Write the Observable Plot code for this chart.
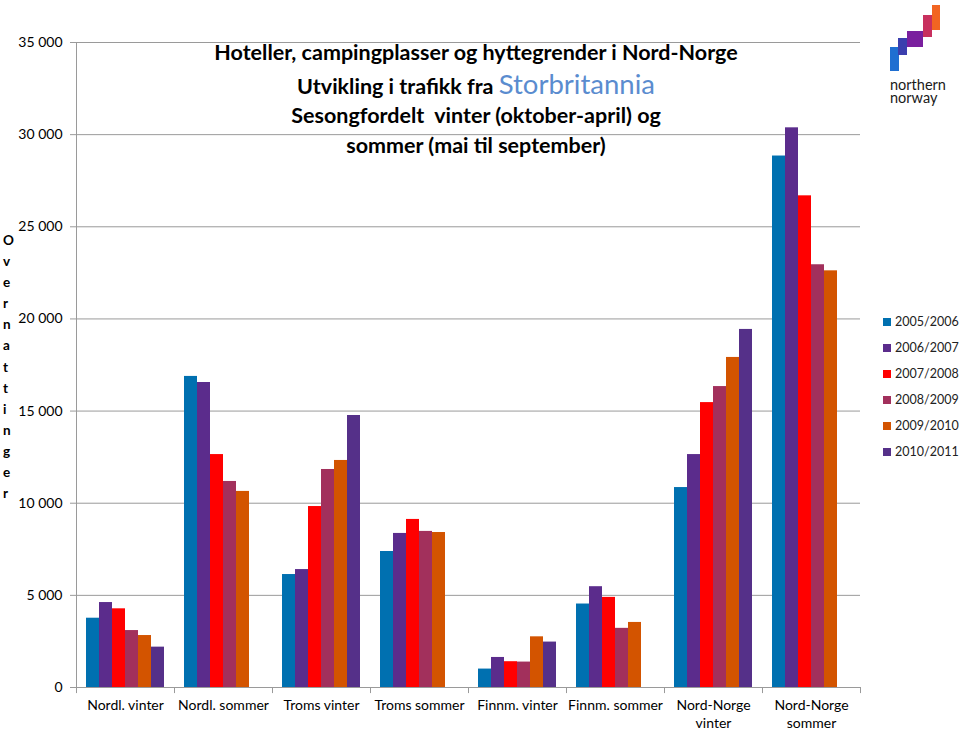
<!DOCTYPE html>
<html>
<head>
<meta charset="utf-8">
<script src="https://cdn.jsdelivr.net/npm/d3@7"></script>
<script src="https://cdn.jsdelivr.net/npm/@observablehq/plot@0.6"></script>
<style>
  body { margin: 0; background: #fff; font-family: Lato, "Open Sans", sans-serif; }
  #wrap { position: relative; width: 960px; height: 730px; overflow: hidden; }
  #chart { position: absolute; left: 0; top: 0; }
  .tl { position: absolute; left: 0; width: 952px; text-align: center; color: #000; font-weight: bold; font-size: 21.5px; white-space: nowrap; }
  .tl .hl { color: #5a8ccf; font-weight: normal; font-size: 27.5px; }
  #ylab { position: absolute; left: 3px; top: 230px; width: 0; word-break: break-all; line-height: 21.1px; font-weight: bold; font-size: 13.5px; color: #000; font-variant-ligatures: none; font-feature-settings: "liga" 0; }
  #legend { position: absolute; left: 883px; top: 309px; font-size: 12.5px; color: #222; }
  #legend div { height: 26px; line-height: 18px; display: flex; align-items: center; white-space: nowrap; }
  #legend span.sw { display: inline-block; width: 8px; height: 8px; margin-right: 4px; }
  #logo { position: absolute; left: 880px; top: 0; }
</style>
</head>
<body>
<div id="wrap">
  <div id="chart"></div>
  <div class="tl" style="top:38px;line-height:28px;">Hoteller, campingplasser og hyttegrender i Nord-Norge</div>
  <div class="tl" style="top:67px;line-height:34px;">Utvikling i trafikk fra <span class="hl">Storbritannia</span></div>
  <div class="tl" style="top:101px;line-height:28px;">Sesongfordelt&nbsp; vinter (oktober-april) og</div>
  <div class="tl" style="top:131px;line-height:28px;">sommer (mai til september)</div>
  <div id="ylab">Overnattinger</div>
  <div id="legend"></div>
  <svg id="logo" width="80" height="110" viewBox="0 0 80 110">
    <rect x="10" y="47" width="9" height="24" fill="#1f6fd1"/>
    <rect x="18" y="38" width="9" height="17" fill="#3b3fae"/>
    <rect x="27" y="31" width="16" height="16" fill="#7a1f9e"/>
    <rect x="43" y="15" width="9" height="22" fill="#c8305e"/>
    <rect x="52" y="5" width="8" height="25" fill="#f26522"/>
    <text font-family="Lato, sans-serif" font-size="14.5" fill="#1a1a1a"><tspan x="10" y="90">northern</tspan><tspan x="10" y="102.5">norway</tspan></text>
  </svg>
</div>
<script>
// Categories (x-axis tick labels)
const groups = ["Nordl. vinter", "Nordl. sommer", "Troms vinter", "Troms sommer",
  "Finnm. vinter", "Finnm. sommer", "Nord-Norge\nvinter", "Nord-Norge\nsommer"];
// Series (seasons)
const series = ["2005/2006", "2006/2007", "2007/2008", "2008/2009", "2009/2010", "2010/2011"];
const colors = ["#0070b0", "#5b2c8c", "#ff0000", "#a2305c", "#d35400", "#553089"];
// Values per series, in order of groups (null = no bar)
const v2005 = [3760, 16880, 6130, 7380, 1000, 4530, 10850, 28840];
const v2006 = [4610, 16550, 6400, 8360, 1630, 5470, 12640, 30370];
const v2007 = [4270, 12640, 9820, 9120, 1400, 4890, 15460, 26680];
const v2008 = [3090, 11180, 11830, 8470, 1380, 3210, 16330, 22940];
const v2009 = [2820, 10640, 12320, 8410, 2750, 3530, 17910, 22610];
const v2010 = [2190, null, 14760, null, 2465, null, 19430, null];
const yTicks = [0, 5000, 10000, 15000, 20000, 25000, 30000, 35000];

const valueLists = [v2005, v2006, v2007, v2008, v2009, v2010];
const data = [];
groups.forEach((g, i) => series.forEach((s, j) => {
  const v = valueLists[j][i];
  if (v != null) data.push({group: g, season: s, value: v});
}));

const fmt = d => d3.format(",")(d).replace(/,/g, " ");
const axisColor = "#9a9a9a";

const chart = Plot.plot({
  width: 960,
  height: 730,
  marginLeft: 76,
  marginRight: 100,
  marginTop: 42,
  marginBottom: 43,
  style: {fontFamily: "Lato, 'Open Sans', sans-serif", fontSize: "14px", color: "#000", background: "transparent"},
  fx: {domain: groups, padding: 0, label: null},
  x: {domain: series, paddingInner: 0, paddingOuter: 10 / 13, axis: null},
  y: {domain: [0, 35000], label: null},
  color: {domain: series, range: colors},
  marks: [
    Plot.gridY(yTicks, {stroke: axisColor, strokeOpacity: 1}),
    Plot.barY(data, {fx: "group", x: "season", y: "value", fill: "season"}),
    Plot.ruleY([0], {stroke: axisColor}),
    // y axis line (left edge of first group)
    Plot.ruleX([groups[0]], {fx: d => d, x: () => series[0], dx: -16.5, y1: -330, y2: 35000, stroke: axisColor}),
    // category boundary ticks
    Plot.ruleX(groups.slice(1), {fx: d => d, x: () => series[0], dx: -16.5, y1: -330, y2: 0, stroke: axisColor}),
    Plot.ruleX([groups[groups.length - 1]], {fx: d => d, x: () => series[series.length - 1], dx: 16.5, y1: -330, y2: 0, stroke: axisColor}),
    Plot.axisY(yTicks, {tickSize: 6, tickPadding: 8, tickFormat: fmt, stroke: axisColor, label: null, fill: "#000", fontSize: 14}),
    Plot.axisFx({anchor: "bottom", tickSize: 0, tickPadding: 10, label: null, lineHeight: 1.27, fill: "#000", fontSize: 14})
  ]
});
document.getElementById("chart").appendChild(chart);

const legend = document.getElementById("legend");
series.forEach((s, j) => {
  const row = document.createElement("div");
  const sw = document.createElement("span");
  sw.className = "sw";
  sw.style.background = colors[j];
  row.appendChild(sw);
  row.appendChild(document.createTextNode(s));
  legend.appendChild(row);
});
</script>
</body>
</html>
